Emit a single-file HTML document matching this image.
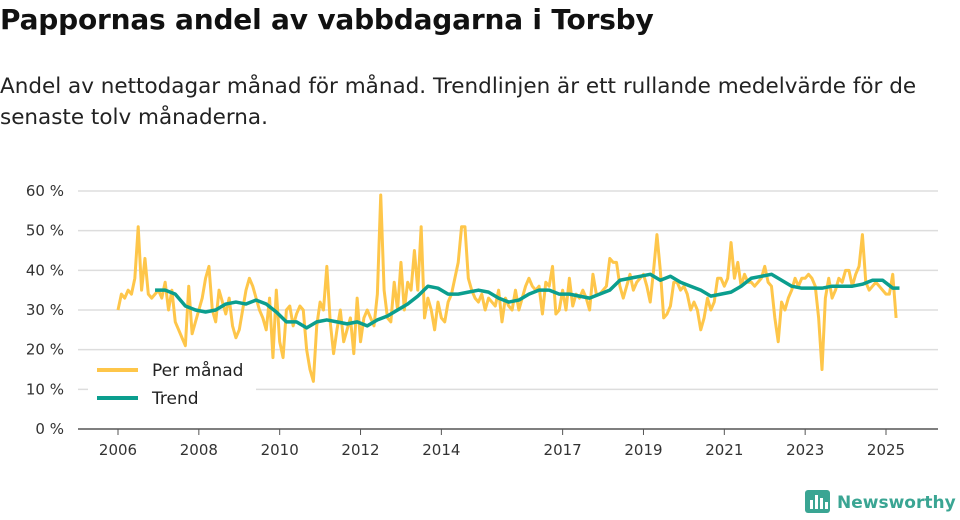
<!DOCTYPE html>
<html><head><meta charset="utf-8">
<style>
body{margin:0;width:960px;height:520px;background:#fff;font-family:"Liberation Sans","DejaVu Sans",sans-serif;overflow:hidden;position:relative;color:#111}
h1{position:absolute;left:0;top:3px;margin:0;font-size:28px;font-weight:bold;font-family:"DejaVu Sans",sans-serif;letter-spacing:-0.2px}
p.sub{position:absolute;left:0;top:71px;margin:0;font-size:21.5px;line-height:31px;width:930px;font-family:"DejaVu Sans",sans-serif;color:#222}
svg{position:absolute;left:0;top:0}
</style></head><body>
<h1>Pappornas andel av vabbdagarna i Torsby</h1>
<p class="sub">Andel av nettodagar månad för månad. Trendlinjen är ett rullande medelvärde för de senaste tolv månaderna.</p>
<svg id="chart" width="960" height="520"></svg>
<script>
const yTicks=[0,10,20,30,40,50,60];
const xTickYears=[2006,2008,2010,2012,2014,2017,2019,2021,2023,2025];
const monthly=[
30,34,33,35,34,38,51,35,43,34,33,34,
35,33,37,30,35,27,25,23,21,36,24,27,
30,33,38,41,30,27,35,32,29,33,26,23,
25,30,35,38,36,33,30,28,25,33,18,35,
22,18,30,31,26,29,31,30,20,15,12,26,
32,30,41,27,19,25,30,22,25,28,19,33,
22,28,30,28,26,34,59,35,28,27,37,30,
42,30,37,35,45,35,51,28,33,30,25,32,
28,27,32,34,38,42,51,51,38,35,33,32,
34,30,33,32,31,35,27,33,31,30,35,30,
33,36,38,36,35,36,29,37,36,41,29,30,
35,30,38,31,34,33,35,33,30,39,34,34,
35,36,43,42,42,36,33,36,39,35,37,38,
39,36,32,40,49,40,28,29,31,37,37,35,
36,34,30,32,30,25,28,33,30,32,38,38,
36,38,47,38,42,36,39,37,37,36,37,38,
41,37,36,28,22,32,30,33,35,38,36,38,
38,39,38,36,28,15,33,38,33,35,38,37,
40,40,36,39,41,49,37,35,36,37,36,35,
34,34,39,28];
const trendMonths=[11,14,17,20,23,26,29,32,35,38,41,44,47,50,53,56,59,62,65,68,71,74,77,80,83,86,89,92,95,98,101,104,107,110,113,116,119,122,125,128,131,134,137,140,143,146,149,152,155,158,161,164,167,170,173,176,179,182,185,188,191,194,197,200,203,206,209,212,215,218,221,224,227,230,232];
const trendValues=[35,35,34,31,30,29.5,30,31.5,32,31.5,32.5,31.5,29.5,27,27,25.5,27,27.5,27,26.5,27,26,27.5,28.5,30,31.5,33.5,36,35.5,34,34,34.5,35,34.5,33,32,32.5,34,35,35,34,34,33.5,33,34,35,37.5,38,38.5,39,37.5,38.5,37,36,35,33.5,34,34.5,36,38,38.5,39,37.5,36,35.5,35.5,35.5,36,36,36,36.5,37.5,37.5,35.5,35.5];

const svg=document.getElementById('chart');
const NS='http://www.w3.org/2000/svg';
const x0=118,pxYear=(886-118)/19,yBase=429,pxPct=(429-191)/60;
const X=m=>x0+m/12*pxYear;
const Y=v=>yBase-v*pxPct;
function mk(t,a){const e=document.createElementNS(NS,t);for(const k in a)e.setAttribute(k,a[k]);svg.appendChild(e);return e;}
yTicks.forEach(v=>{
  const l=mk('line',{x1:78,x2:938,y1:Y(v),y2:Y(v),stroke:v===0?'#555':'#ddd','stroke-width':1.5});
  
  
  const t=mk('text',{x:64,y:Y(v)+5,'text-anchor':'end','font-size':15,fill:'#333','font-family':'DejaVu Sans,sans-serif'});
  t.textContent=v+' %';
  
  
});
xTickYears.forEach(yr=>{
  const x=X((yr-2006)*12);
  const tk=mk('line',{x1:x,x2:x,y1:yBase,y2:yBase+6,stroke:'#555','stroke-width':1});
  
  
  const t=mk('text',{x:x,y:yBase+26,'text-anchor':'middle','font-size':15,fill:'#333','font-family':'DejaVu Sans,sans-serif'});
  t.textContent=yr;
  
  
});
const mp=mk('polyline',{points:monthly.map((v,i)=>X(i)+','+Y(v)).join(' '),fill:'none',stroke:'#fec64a','stroke-width':3,'stroke-linejoin':'round'});


const tp=mk('polyline',{points:trendValues.map((v,i)=>X(trendMonths[i])+','+Y(v)).join(' '),fill:'none',stroke:'#0b9e8e','stroke-width':3.5,'stroke-linejoin':'round'});


const lb=mk('rect',{x:88,y:355,width:168,height:56,fill:'#fff'});


[['Per månad','#fec64a',370],['Trend','#0b9e8e',398]].forEach(([n,c,y])=>{
  const l=mk('line',{x1:97,x2:138,y1:y,y2:y,stroke:c,'stroke-width':4});
  
  
  const t=mk('text',{x:152,y:y+6,'font-size':17,fill:'#222','font-family':'DejaVu Sans,sans-serif'});
  t.textContent=n;
  
  
});
const g=mk('g',{});


const r=document.createElementNS(NS,'rect');
[['x',805],['y',490],['width',25],['height',23],['rx',3],['fill','#3aa593']].forEach(([k,v])=>r.setAttribute(k,v));g.appendChild(r);
[[810,500,4],[815,495,9],[820,498,6],[825,502,2]].forEach(([x,y,h])=>{const b=document.createElementNS(NS,'rect');b.setAttribute('x',x);b.setAttribute('y',y);b.setAttribute('width',3);b.setAttribute('height',h+5);b.setAttribute('fill','#fff');g.appendChild(b);});
const lt=document.createElementNS(NS,'text');
lt.setAttribute('x',837);lt.setAttribute('y',508);lt.setAttribute('font-size',17);lt.setAttribute('fill','#3aa593');lt.setAttribute('font-weight','bold');lt.setAttribute('font-family','DejaVu Sans,sans-serif');
lt.textContent='Newsworthy';g.appendChild(lt);
</script>
</body></html>
